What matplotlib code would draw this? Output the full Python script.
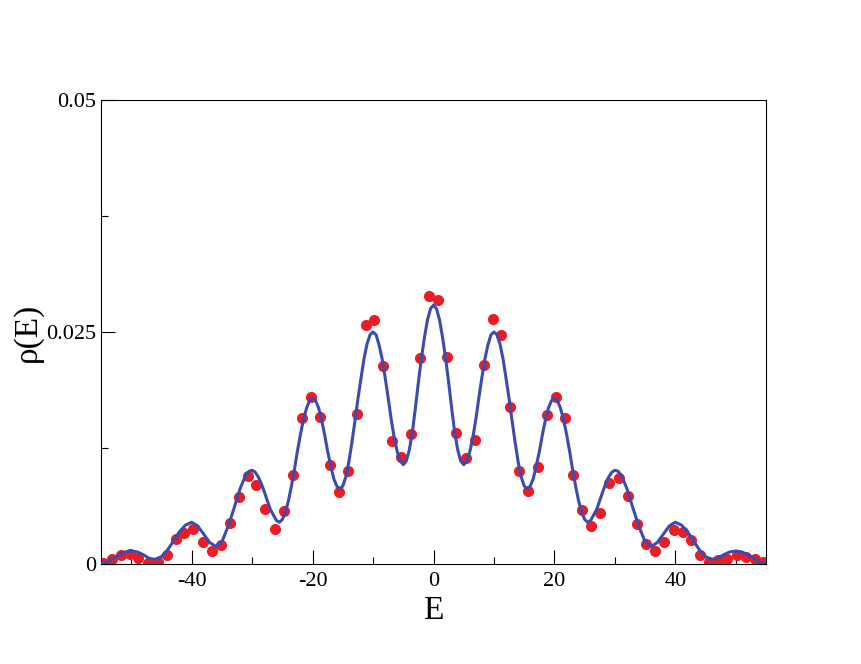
import numpy as np
from matplotlib import pyplot as plt
from matplotlib.ticker import MultipleLocator, FixedLocator

# red points (simulation)
E_pts = [-54.7, -53.2, -51.7, -50.2, -48.8, -47.3, -45.6, -44.1, -42.6, -41.2,
         -39.7, -38.2, -36.7, -35.2, -33.7, -32.2, -30.7, -29.3, -27.8, -26.3,
         -24.8, -23.3, -21.7, -20.2, -18.8, -17.2, -15.7, -14.2, -12.7, -11.2,
         -9.8, -8.3, -6.8, -5.3, -3.8, -2.3, -0.8, 0.7, 2.3, 3.8,
         5.3, 6.8, 8.3, 9.8, 11.2, 12.7, 14.2, 15.7, 17.2, 18.7,
         20.2, 21.7, 23.1, 24.6, 26.1, 27.6, 29.1, 30.6, 32.1, 33.7,
         35.2, 36.7, 38.2, 39.7, 41.2, 42.6, 44.1, 45.6, 47.1, 48.6,
         50.2, 51.7, 53.2, 54.5]
rho_pts = [0.0001, 0.0005, 0.0010, 0.0011, 0.0006, 0.0001, 0.0002, 0.0010, 0.0027, 0.0033,
           0.0038, 0.0024, 0.0014, 0.0020, 0.0044, 0.0072, 0.0095, 0.0085, 0.0059, 0.0038,
           0.0057, 0.0096, 0.0157, 0.0180, 0.0158, 0.0107, 0.0078, 0.0100, 0.0162, 0.0258,
           0.0263, 0.0213, 0.0133, 0.0115, 0.0140, 0.0222, 0.0289, 0.0284, 0.0223, 0.0141,
           0.0114, 0.0134, 0.0214, 0.0264, 0.0247, 0.0169, 0.0100, 0.0079, 0.0105, 0.0161,
           0.0180, 0.0157, 0.0096, 0.0058, 0.0041, 0.0055, 0.0087, 0.0093, 0.0073, 0.0043,
           0.0022, 0.0014, 0.0024, 0.0037, 0.0034, 0.0026, 0.0010, 0.0002, 0.0004, 0.0005,
           0.0010, 0.0008, 0.0005, 0.0002]

# blue curve (theory)
E_line = [-55, -54, -53, -52, -51, -50, -49, -48, -47, -46,
          -45, -44, -43, -42, -41, -40, -39, -38, -37, -36,
          -35, -34, -33, -32, -31.5, -31, -30.5, -30, -29.5, -29,
          -28.5, -28, -27, -26, -25.5, -25, -24.5, -24, -23.5, -23,
          -22.5, -22, -21.5, -21, -20.5, -20, -19.5, -19, -18.5, -18,
          -17.5, -17, -16.5, -16, -15.5, -15, -14.5, -14, -13.5, -13,
          -12.5, -12, -11.5, -11, -10.5, -10, -9.5, -9, -8.5, -8,
          -7.5, -7, -6.5, -6, -5.5, -5, -4.5, -4, -3.5, -3,
          -2.5, -2, -1.5, -1, -0.5, 0, 0.5, 1, 1.5, 2,
          2.5, 3, 3.5, 4, 4.5, 5, 5.5, 6, 6.5, 7,
          7.5, 8, 8.5, 9, 9.5, 10, 10.5, 11, 11.5, 12,
          12.5, 13, 13.5, 14, 14.5, 15, 15.5, 16, 16.5, 17,
          17.5, 18, 18.5, 19, 19.5, 20, 20.5, 21, 21.5, 22,
          22.5, 23, 23.5, 24, 24.5, 25, 25.5, 26, 27, 28,
          28.5, 29, 29.5, 30, 30.5, 31, 31.5, 32, 33, 34,
          35, 36, 37, 38, 39, 40, 41, 42, 43, 44,
          45, 46, 47, 48, 49, 50, 51, 52, 53, 54, 55]
rho_line = [0.0001, 0.0002, 0.0006, 0.0010, 0.0013, 0.0014, 0.0013, 0.0010, 0.0006, 0.0005,
            0.0008, 0.0015, 0.0025, 0.0035, 0.0042, 0.0045, 0.0041, 0.0032, 0.0023, 0.0019,
            0.0024, 0.0040, 0.0060, 0.0081, 0.0089, 0.0096, 0.0100, 0.0101, 0.0099, 0.0094,
            0.0087, 0.0078, 0.0059, 0.0047, 0.0045, 0.0048, 0.0056, 0.0068, 0.0084, 0.0102,
            0.0122, 0.0140, 0.0156, 0.0168, 0.0176, 0.0179, 0.0176, 0.0168, 0.0155, 0.0139,
            0.0121, 0.0106, 0.0092, 0.0084, 0.0081, 0.0084, 0.0094, 0.0110, 0.0131, 0.0154,
            0.0178, 0.0200, 0.0221, 0.0237, 0.0247, 0.0250, 0.0247, 0.0236, 0.0221, 0.0201,
            0.0179, 0.0156, 0.0136, 0.0121, 0.0111, 0.0107, 0.0111, 0.0123, 0.0142, 0.0168,
            0.0196, 0.0222, 0.0244, 0.0263, 0.0275, 0.0279, 0.0275, 0.0263, 0.0244, 0.0222,
            0.0196, 0.0168, 0.0142, 0.0123, 0.0111, 0.0107, 0.0111, 0.0121, 0.0136, 0.0156,
            0.0179, 0.0201, 0.0221, 0.0236, 0.0247, 0.0250, 0.0247, 0.0237, 0.0221, 0.0200,
            0.0178, 0.0154, 0.0131, 0.0110, 0.0094, 0.0084, 0.0081, 0.0084, 0.0092, 0.0106,
            0.0121, 0.0139, 0.0155, 0.0168, 0.0176, 0.0179, 0.0176, 0.0168, 0.0156, 0.0140,
            0.0122, 0.0102, 0.0084, 0.0068, 0.0056, 0.0048, 0.0045, 0.0047, 0.0059, 0.0078,
            0.0087, 0.0094, 0.0099, 0.0101, 0.0100, 0.0096, 0.0089, 0.0081, 0.0060, 0.0040,
            0.0024, 0.0019, 0.0023, 0.0032, 0.0041, 0.0045, 0.0042, 0.0035, 0.0025, 0.0015,
            0.0008, 0.0005, 0.0006, 0.0010, 0.0013, 0.0014, 0.0013, 0.0010, 0.0006, 0.0002, 0.0001]

plt.rcParams['font.family'] = ['Liberation Serif', 'DejaVu Serif']
plt.rcParams['axes.unicode_minus'] = False

fig = plt.figure(figsize=(8.61, 6.64), dpi=100)
ax = fig.add_axes([0.1173, 0.1506, 0.7724, 0.6988])

ax.plot(E_pts, rho_pts, 'o', color='#ED1C24', markersize=8, markeredgewidth=0, zorder=2)
ax.plot(E_line, rho_line, '-', color='#3B4BAE', linewidth=2.2, zorder=3,
        solid_joinstyle='round')

ax.set_xlim(-55, 55)
ax.set_ylim(0, 0.05)
ax.xaxis.set_major_locator(FixedLocator([-40, -20, 0, 20, 40]))
ax.xaxis.set_minor_locator(MultipleLocator(10))
ax.yaxis.set_major_locator(FixedLocator([0, 0.025, 0.05]))
ax.yaxis.set_minor_locator(MultipleLocator(0.0125))
ax.set_yticklabels(['0', '0.025', '0.05'])
ax.tick_params(which='both', direction='in', top=False, right=False, labelsize=16, width=0.8)
ax.tick_params(which='major', length=10)
ax.tick_params(which='minor', length=5)
ax.tick_params(axis='x', pad=6)
for s in ax.spines.values():
    s.set_linewidth(0.8)

ax.set_xlabel('E', fontsize=24, labelpad=3)
ax.set_ylabel('ρ(E)', fontsize=24, labelpad=2)

fig.savefig('out.png', dpi=100)
